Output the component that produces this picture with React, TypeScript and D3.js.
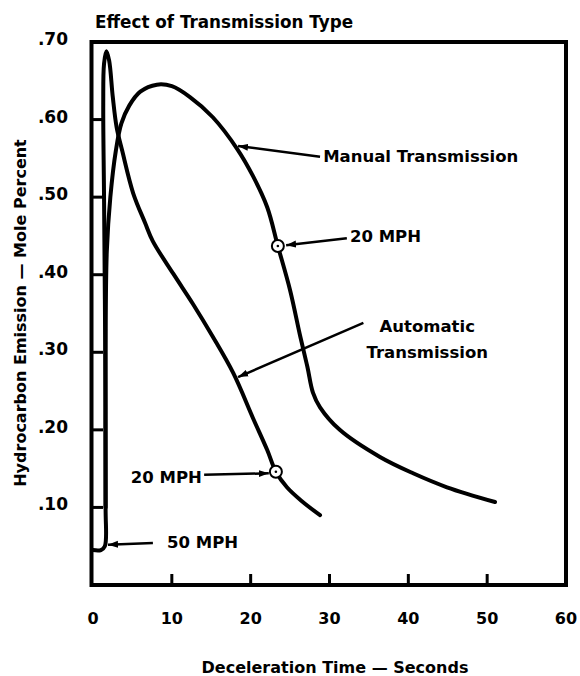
import React, { useEffect, useRef } from "react";
import * as d3 from "d3";

// automatic transmission curve (the spike at the start)
const autoTime = [0, 1.0, 1.5, 1.6, 1.55, 1.4, 1.3, 1.4, 1.7, 2.05, 2.5, 3.0, 3.7, 5.1, 6.6, 7.6, 10.2, 12.7, 15.2, 17.8, 20.3, 22.1, 23.2, 24.6, 26.5, 28.8];
const autoHC = [0.045, 0.045, 0.05, 0.1, 0.3, 0.5, 0.62, 0.672, 0.688, 0.676, 0.63, 0.59, 0.56, 0.505, 0.467, 0.443, 0.401, 0.362, 0.32, 0.273, 0.215, 0.174, 0.146, 0.126, 0.108, 0.09];

// manual transmission curve
const manualTime = [1.6, 1.6, 1.75, 2.2, 2.9, 3.6, 4.6, 6.0, 8.1, 10, 12.3, 15.2, 18.3, 20.3, 22.1, 23.45, 25.0, 26.3, 27.2, 27.9, 28.8, 31.3, 36.4, 40.6, 44.9, 51.0];
const manualHC = [0.1, 0.3, 0.43, 0.5, 0.56, 0.595, 0.618, 0.636, 0.645, 0.643, 0.629, 0.603, 0.562, 0.527, 0.487, 0.437, 0.38, 0.32, 0.281, 0.248, 0.229, 0.2, 0.165, 0.144, 0.126, 0.107];

// 20 MPH points
const markerTime = [23.45, 23.2];
const markerHC = [0.437, 0.146];

const xTicks = [0, 10, 20, 30, 40, 50, 60];
const yTicks = [0.1, 0.2, 0.3, 0.4, 0.5, 0.6, 0.7];
const yTickLabels = [".10", ".20", ".30", ".40", ".50", ".60", ".70"];

// annotations: text position and arrow (from -> to), in data units
const labelText = ["Manual Transmission", "20 MPH", "Automatic|Transmission", "20 MPH", "50 MPH"];
const labelAnchor = ["start", "start", "middle", "end", "start"];
const labelX = [29.2, 32.6, 42.4, 13.8, 9.4];
const labelY = [0.545, 0.442, 0.326, 0.131, 0.048];
const arrowFrom = [[28.8, 0.552], [32.2, 0.447], [34.3, 0.338], [14.1, 0.142], [7.6, 0.054]];
const arrowTo = [[18.4, 0.566], [24.5, 0.438], [18.4, 0.268], [22.3, 0.144], [1.9, 0.052]];

const W = 580;
const H = 676;
const FONT = "'DejaVu Sans', Arial, sans-serif";

const App = () => {
  const ref = useRef(null);

  useEffect(() => {
    const svg = d3.select(ref.current);
    svg.selectAll("*").remove();

    const x = d3.scaleLinear().domain([0, 60]).range([93, 566]);
    const y = d3.scaleLinear().domain([0, 0.7]).range([585, 42]);

    svg.append("defs")
      .append("marker")
      .attr("id", "arr")
      .attr("markerUnits", "userSpaceOnUse")
      .attr("markerWidth", 11)
      .attr("markerHeight", 8)
      .attr("refX", 10)
      .attr("refY", 4)
      .attr("orient", "auto")
      .append("path")
      .attr("d", "M0,0.5 L10,4 L0,7.5 Z")
      .attr("fill", "#000");

    // frame
    svg.append("rect")
      .attr("x", x(0) - 1.5)
      .attr("y", y(0.7))
      .attr("width", x(60) - x(0) + 1.5)
      .attr("height", y(0) - y(0.7))
      .attr("fill", "none")
      .attr("stroke", "#000")
      .attr("stroke-width", 4);

    // inner ticks
    svg.selectAll("line.xt")
      .data(xTicks.slice(1, -1))
      .enter()
      .append("line")
      .attr("class", "xt")
      .attr("x1", d => x(d))
      .attr("x2", d => x(d))
      .attr("y1", y(0))
      .attr("y2", y(0) - 11)
      .attr("stroke", "#000")
      .attr("stroke-width", 3);

    svg.selectAll("line.yt")
      .data(yTicks.slice(0, -1))
      .enter()
      .append("line")
      .attr("class", "yt")
      .attr("x1", x(0))
      .attr("x2", x(0) + 10)
      .attr("y1", d => y(d))
      .attr("y2", d => y(d))
      .attr("stroke", "#000")
      .attr("stroke-width", 3);

    svg.selectAll("text.xl")
      .data(xTicks)
      .enter()
      .append("text")
      .attr("class", "xl")
      .attr("x", d => x(d))
      .attr("y", 624)
      .attr("text-anchor", "middle")
      .style("font-family", FONT)
      .style("font-weight", "bold")
      .style("font-size", "16px")
      .text(d => d);

    svg.selectAll("text.yl")
      .data(yTicks)
      .enter()
      .append("text")
      .attr("class", "yl")
      .attr("x", 68)
      .attr("y", d => y(d) + 3)
      .attr("text-anchor", "end")
      .style("font-family", FONT)
      .style("font-weight", "bold")
      .style("font-size", "17px")
      .text((d, i) => yTickLabels[i]);

    // titles
    svg.append("text")
      .attr("x", 95)
      .attr("y", 28)
      .style("font-family", FONT)
      .style("font-weight", "bold")
      .style("font-size", "16.8px")
      .text("Effect of Transmission Type");

    svg.append("text")
      .attr("x", 335)
      .attr("y", 673)
      .attr("text-anchor", "middle")
      .style("font-family", FONT)
      .style("font-weight", "bold")
      .style("font-size", "16px")
      .text("Deceleration Time \u2014 Seconds");

    svg.append("text")
      .attr("transform", "translate(26,313) rotate(-90)")
      .attr("text-anchor", "middle")
      .style("font-family", FONT)
      .style("font-weight", "bold")
      .style("font-size", "16px")
      .text("Hydrocarbon Emission \u2014 Mole Percent");

    // curves
    const line = d3.line()
      .x(d => x(d[0]))
      .y(d => y(d[1]))
      .curve(d3.curveCatmullRom.alpha(0.5));

    const curves = [
      d3.zip(autoTime, autoHC),
      d3.zip(manualTime, manualHC),
    ];

    svg.selectAll("path.curve")
      .data(curves)
      .enter()
      .append("path")
      .attr("class", "curve")
      .attr("d", line)
      .attr("fill", "none")
      .attr("stroke", "#000")
      .attr("stroke-width", 4)
      .attr("stroke-linejoin", "round")
      .attr("stroke-linecap", "round");

    // annotation arrows
    svg.selectAll("line.arrow")
      .data(arrowFrom)
      .enter()
      .append("line")
      .attr("class", "arrow")
      .attr("x1", d => x(d[0]))
      .attr("y1", d => y(d[1]))
      .attr("x2", (d, i) => x(arrowTo[i][0]))
      .attr("y2", (d, i) => y(arrowTo[i][1]))
      .attr("stroke", "#000")
      .attr("stroke-width", 2.5)
      .attr("marker-end", "url(#arr)");

    // 20 MPH markers
    const pts = d3.zip(markerTime, markerHC);
    svg.selectAll("circle.mk")
      .data(pts)
      .enter()
      .append("circle")
      .attr("class", "mk")
      .attr("cx", d => x(d[0]))
      .attr("cy", d => y(d[1]))
      .attr("r", 6)
      .attr("fill", "#fff")
      .attr("stroke", "#000")
      .attr("stroke-width", 2);
    svg.selectAll("circle.dot")
      .data(pts)
      .enter()
      .append("circle")
      .attr("class", "dot")
      .attr("cx", d => x(d[0]))
      .attr("cy", d => y(d[1]))
      .attr("r", 1.3)
      .attr("fill", "#000");

    // annotation labels
    const labels = svg.selectAll("text.lab")
      .data(labelText)
      .enter()
      .append("text")
      .attr("class", "lab")
      .attr("text-anchor", (d, i) => labelAnchor[i])
      .style("font-family", FONT)
      .style("font-weight", "bold")
      .style("font-size", "16.5px");

    labels.each(function (d, i) {
      const t = d3.select(this);
      d.split("|").forEach((part, k) => {
        t.append("tspan")
          .attr("x", x(labelX[i]))
          .attr("y", y(labelY[i]) + k * 26)
          .text(part);
      });
    });
  }, []);

  return (
    <svg
      ref={ref}
      width={W}
      height={H}
      style={{ position: "absolute", left: 0, top: 0, background: "#fff" }}
    />
  );
};

export default App;
